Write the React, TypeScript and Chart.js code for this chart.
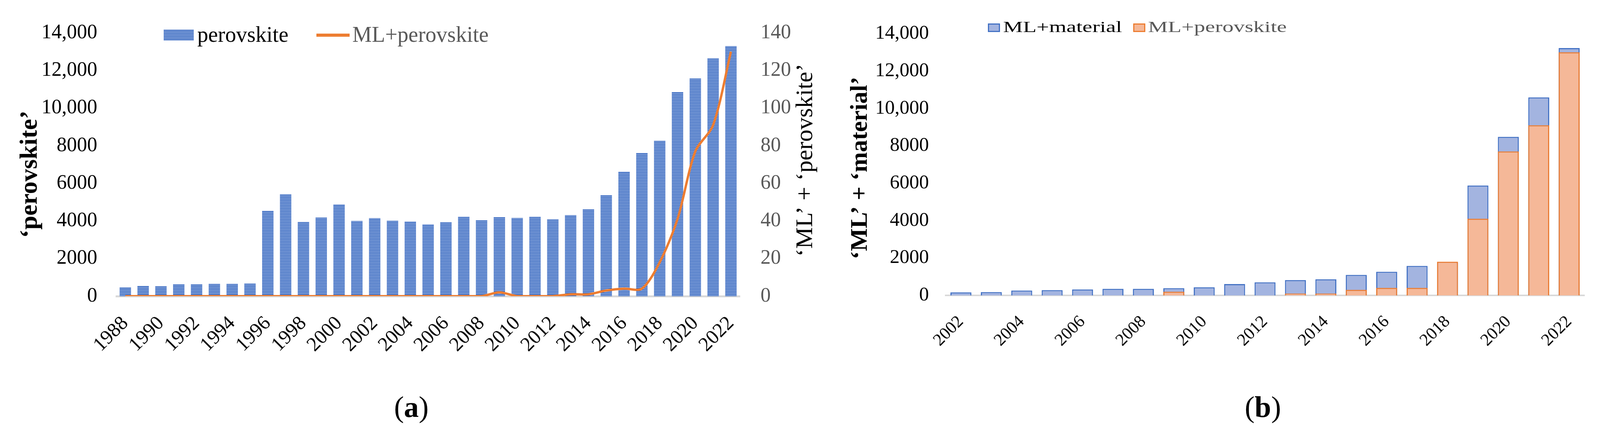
import React, { useEffect, useRef } from 'react';
import { Chart, registerables } from 'chart.js';

Chart.register(...registerables);

const FONT = "'Liberation Serif', 'Times New Roman', serif";

// ---------- Panel (a) data ----------
const yearsA = [
  '1988', '1989', '1990', '1991', '1992', '1993', '1994', '1995', '1996', '1997',
  '1998', '1999', '2000', '2001', '2002', '2003', '2004', '2005', '2006', '2007',
  '2008', '2009', '2010', '2011', '2012', '2013', '2014', '2015', '2016', '2017',
  '2018', '2019', '2020', '2021', '2022',
];
const perovskiteCounts = [
  470, 540, 530, 635, 635, 660, 660, 675, 4540, 5420,
  3940, 4180, 4880, 4000, 4150, 4010, 3975, 3820, 3930, 4230,
  4040, 4200, 4160, 4230, 4090, 4310, 4625, 5375, 6620, 7620,
  8260, 10860, 11580, 12650, 13300,
];
const mlPerovskiteA = [
  0, 0, 0, 0, 0, 0, 0, 0, 0, 0,
  0, 0, 0, 0, 0, 0, 0, 0, 0, 0,
  0, 2, 0, 0, 0, 1, 1, 3, 4, 4,
  18, 41, 77, 91, 130,
];

// ---------- Panel (b) data ----------
const yearsB = [
  '2002', '2003', '2004', '2005', '2006', '2007', '2008', '2009', '2010', '2011',
  '2012', '2013', '2014', '2015', '2016', '2017', '2018', '2019', '2020', '2021', '2022',
];
const mlMaterialCounts = [
  160, 180, 263, 284, 317, 352, 352, 387, 435, 607,
  700, 822, 864, 1098, 1263, 1580, 1750, 5875, 8476, 10588, 13226,
];
const mlPerovskiteB = [
  0, 0, 0, 0, 0, 0, 0, 2, 0, 0,
  0, 1, 1, 3, 4, 4, 18, 41, 77, 91, 130,
];

// ---------- Axis ticks ----------
const leftTicks = [0, 2000, 4000, 6000, 8000, 10000, 12000, 14000];
const rightTicks = [0, 20, 40, 60, 80, 100, 120, 140];

// ---------- Texts ----------
const titleLeftA = '\u2018perovskite\u2019';
const titleRightA = '\u2018ML\u2019 + \u2018perovskite\u2019';
const titleLeftB = '\u2018ML\u2019 + \u2018material\u2019';
const titleRightB = '\u2018ML\u2019 + \u2018perovskite\u2019';

const ORANGE = '#ED7D31';
const BLUE = '#4472C4';
const BLUE_FILL = '#a3b4e0';
const ORANGE_FILL = '#f5b898';
const GRAY_TEXT = '#595959';

function fmtLeft(v: number): string {
  const s = String(v);
  return v >= 10000 ? s.replace(/\B(?=(\d{3})+(?!\d))/g, ',') : s;
}

function makeStripePattern(): CanvasPattern | string {
  const c = document.createElement('canvas');
  c.width = 4;
  c.height = 4;
  const g = c.getContext('2d');
  if (!g) return BLUE;
  g.fillStyle = BLUE;
  g.fillRect(0, 0, 4, 4);
  g.fillStyle = '#c8d6f1';
  g.fillRect(0, 3, 4, 1);
  return g.createPattern(c, 'repeat') || BLUE;
}

function drawVertical(ctx: CanvasRenderingContext2D, text: string, x: number, y: number, font: string, color: string) {
  ctx.save();
  ctx.translate(x, y);
  ctx.rotate(-Math.PI / 2);
  ctx.font = font;
  ctx.fillStyle = color;
  ctx.textAlign = 'center';
  ctx.textBaseline = 'middle';
  ctx.fillText(text, 0, 0);
  ctx.restore();
}

const decorA = {
  id: 'decorA',
  afterDraw(chart: any) {
    const ctx: CanvasRenderingContext2D = chart.ctx;
    const barDs = chart.data.datasets[1];
    const lineDs = chart.data.datasets[0];
    ctx.save();
    // legend: striped box + label
    ctx.fillStyle = barDs.backgroundColor;
    ctx.fillRect(419, 76, 77, 28);
    ctx.font = `56px ${FONT}`;
    ctx.textBaseline = 'alphabetic';
    ctx.textAlign = 'left';
    ctx.fillStyle = '#000000';
    ctx.fillText(barDs.label, 505, 107);
    // legend: orange line + label
    ctx.strokeStyle = ORANGE;
    ctx.lineWidth = 8;
    ctx.beginPath();
    ctx.moveTo(810, 90);
    ctx.lineTo(895, 90);
    ctx.stroke();
    ctx.fillStyle = GRAY_TEXT;
    ctx.fillText(lineDs.label, 902, 107);
    ctx.restore();
    // axis titles
    drawVertical(ctx, titleLeftA, 77, 446, `bold 64px ${FONT}`, '#000000');
    drawVertical(ctx, titleRightA, 2063, 410, `62px ${FONT}`, '#000000');
  },
};

const decorB = {
  id: 'decorB',
  afterDraw(chart: any) {
    const ctx: CanvasRenderingContext2D = chart.ctx;
    const matDs = chart.data.datasets[0];
    const perDs = chart.data.datasets[1];
    ctx.save();
    const drawBox = (x: number, fill: string, stroke: string) => {
      ctx.fillStyle = fill;
      ctx.fillRect(x, 60, 31, 22);
      ctx.strokeStyle = stroke;
      ctx.lineWidth = 3;
      ctx.strokeRect(x + 1.5, 61.5, 28, 19);
    };
    const drawLabel = (text: string, x: number, color: string) => {
      ctx.save();
      ctx.translate(x, 82);
      ctx.scale(1, 0.72);
      ctx.font = `57px ${FONT}`;
      ctx.textAlign = 'left';
      ctx.textBaseline = 'alphabetic';
      ctx.fillStyle = color;
      ctx.fillText(text, 0, 0);
      ctx.restore();
    };
    drawBox(389, BLUE_FILL, BLUE);
    drawLabel(matDs.label, 428, '#000000');
    drawBox(761, ORANGE_FILL, ORANGE);
    drawLabel(perDs.label, 799, GRAY_TEXT);
    ctx.restore();
    drawVertical(ctx, titleLeftB, 63, 430, `bold 62px ${FONT}`, '#000000');
    drawVertical(ctx, titleRightB, 2102, 405, `62px ${FONT}`, '#000000');
  },
};

function configA(): any {
  const stripe = makeStripePattern();
  return {
    type: 'bar',
    data: {
      labels: yearsA,
      datasets: [
        {
          type: 'line',
          label: 'ML+perovskite',
          data: mlPerovskiteA,
          yAxisID: 'y1',
          borderColor: ORANGE,
          backgroundColor: ORANGE,
          borderWidth: 6,
          pointRadius: 0,
          tension: 0.3,
          fill: false,
          order: 0,
        },
        {
          type: 'bar',
          label: 'perovskite',
          data: perovskiteCounts,
          yAxisID: 'y',
          backgroundColor: stripe,
          borderWidth: 0,
          categoryPercentage: 1,
          barPercentage: 0.64,
          order: 1,
        },
      ],
    },
    options: {
      responsive: false,
      animation: false,
      devicePixelRatio: 1,
      events: [],
      layout: { padding: { top: 74, left: 0, right: 0, bottom: 0 } },
      plugins: { legend: { display: false }, tooltip: { enabled: false }, title: { display: false } },
      scales: {
        x: {
          grid: { display: false, drawTicks: false },
          border: { display: true, color: '#d9d9d9', width: 5 },
          ticks: {
            autoSkip: false,
            minRotation: 45,
            maxRotation: 45,
            padding: 40,
            color: '#000000',
            font: { family: FONT, size: 51 },
            callback: function (this: any, v: any, i: number) {
              return i % 2 === 0 ? this.getLabelForValue(v) : '';
            },
          },
          afterFit: (s: any) => { s.height = 182; },
        },
        y: {
          position: 'left',
          min: 0,
          max: 14000,
          grid: { display: false, drawTicks: false },
          border: { display: false },
          ticks: { padding: 49, color: '#000000', font: { family: FONT, size: 52 }, callback: (v: number) => fmtLeft(v) },
          afterBuildTicks: (s: any) => { s.ticks = leftTicks.map((v) => ({ value: v })); },
          afterFit: (s: any) => { s.width = 298; },
        },
        y1: {
          position: 'right',
          min: 0,
          max: 140,
          grid: { display: false, drawTicks: false },
          border: { display: false },
          ticks: { padding: 53, color: GRAY_TEXT, font: { family: FONT, size: 52 } },
          afterBuildTicks: (s: any) => { s.ticks = rightTicks.map((v) => ({ value: v })); },
          afterFit: (s: any) => { s.width = 246; },
        },
      },
    },
    plugins: [decorA],
  };
}

function configB(): any {
  return {
    type: 'bar',
    data: {
      labels: yearsB,
      datasets: [
        {
          label: 'ML+material',
          data: mlMaterialCounts,
          yAxisID: 'y',
          backgroundColor: BLUE_FILL,
          borderColor: BLUE,
          borderWidth: 3,
          grouped: false,
          categoryPercentage: 1,
          barPercentage: 0.69,
          order: 1,
        },
        {
          label: 'ML+perovskite',
          data: mlPerovskiteB,
          yAxisID: 'y1',
          backgroundColor: ORANGE_FILL,
          borderColor: ORANGE,
          borderWidth: 3,
          grouped: false,
          categoryPercentage: 1,
          barPercentage: 0.69,
          order: 0,
        },
      ],
    },
    options: {
      responsive: false,
      animation: false,
      devicePixelRatio: 1,
      events: [],
      layout: { padding: { top: 80, left: 0, right: 0, bottom: 0 } },
      plugins: { legend: { display: false }, tooltip: { enabled: false }, title: { display: false } },
      scales: {
        x: {
          grid: { display: false, drawTicks: false },
          border: { display: true, color: '#d9d9d9', width: 4 },
          ticks: {
            autoSkip: false,
            minRotation: 45,
            maxRotation: 45,
            padding: 42,
            color: '#000000',
            font: { family: FONT, size: 44 },
            callback: function (this: any, v: any, i: number) {
              return i % 2 === 0 ? this.getLabelForValue(v) : '';
            },
          },
          afterFit: (s: any) => { s.height = 184; },
        },
        y: {
          position: 'left',
          min: 0,
          max: 14000,
          grid: { display: false, drawTicks: false },
          border: { display: false },
          ticks: { padding: 43, color: '#000000', font: { family: FONT, size: 50 }, callback: (v: number) => fmtLeft(v) },
          afterBuildTicks: (s: any) => { s.ticks = leftTicks.map((v) => ({ value: v })); },
          afterFit: (s: any) => { s.width = 281; },
        },
        y1: {
          position: 'right',
          min: 0,
          max: 140,
          grid: { display: false, drawTicks: false },
          border: { display: false },
          ticks: { padding: 56, color: GRAY_TEXT, font: { family: FONT, size: 50 } },
          afterBuildTicks: (s: any) => { s.ticks = rightTicks.map((v) => ({ value: v })); },
          afterFit: (s: any) => { s.width = 228; },
        },
      },
    },
    plugins: [decorB],
  };
}

export default function App() {
  const refA = useRef<HTMLCanvasElement>(null);
  const refB = useRef<HTMLCanvasElement>(null);

  useEffect(() => {
    if (!refA.current || !refB.current) return;
    const a = new Chart(refA.current, configA());
    const b = new Chart(refB.current, configB());
    return () => {
      a.destroy();
      b.destroy();
    };
  }, []);

  const captionStyle: React.CSSProperties = {
    position: 'absolute',
    top: 1003,
    width: 200,
    textAlign: 'center',
    fontFamily: FONT,
    fontSize: 76,
    lineHeight: '76px',
    color: '#000',
  };

  return (
    <div style={{ position: 'absolute', left: 0, top: 0, width: 4284, height: 1121, overflow: 'hidden', background: '#ffffff' }}>
      <canvas ref={refA} width={2140} height={940} style={{ position: 'absolute', left: 0, top: 0, width: 2140, height: 940 }} />
      <canvas ref={refB} width={2144} height={940} style={{ position: 'absolute', left: 2140, top: 0, width: 2144, height: 940 }} />
      <div style={{ ...captionStyle, left: 953 }}>(<b>a</b>)</div>
      <div style={{ ...captionStyle, left: 3133 }}>(<b>b</b>)</div>
    </div>
  );
}
